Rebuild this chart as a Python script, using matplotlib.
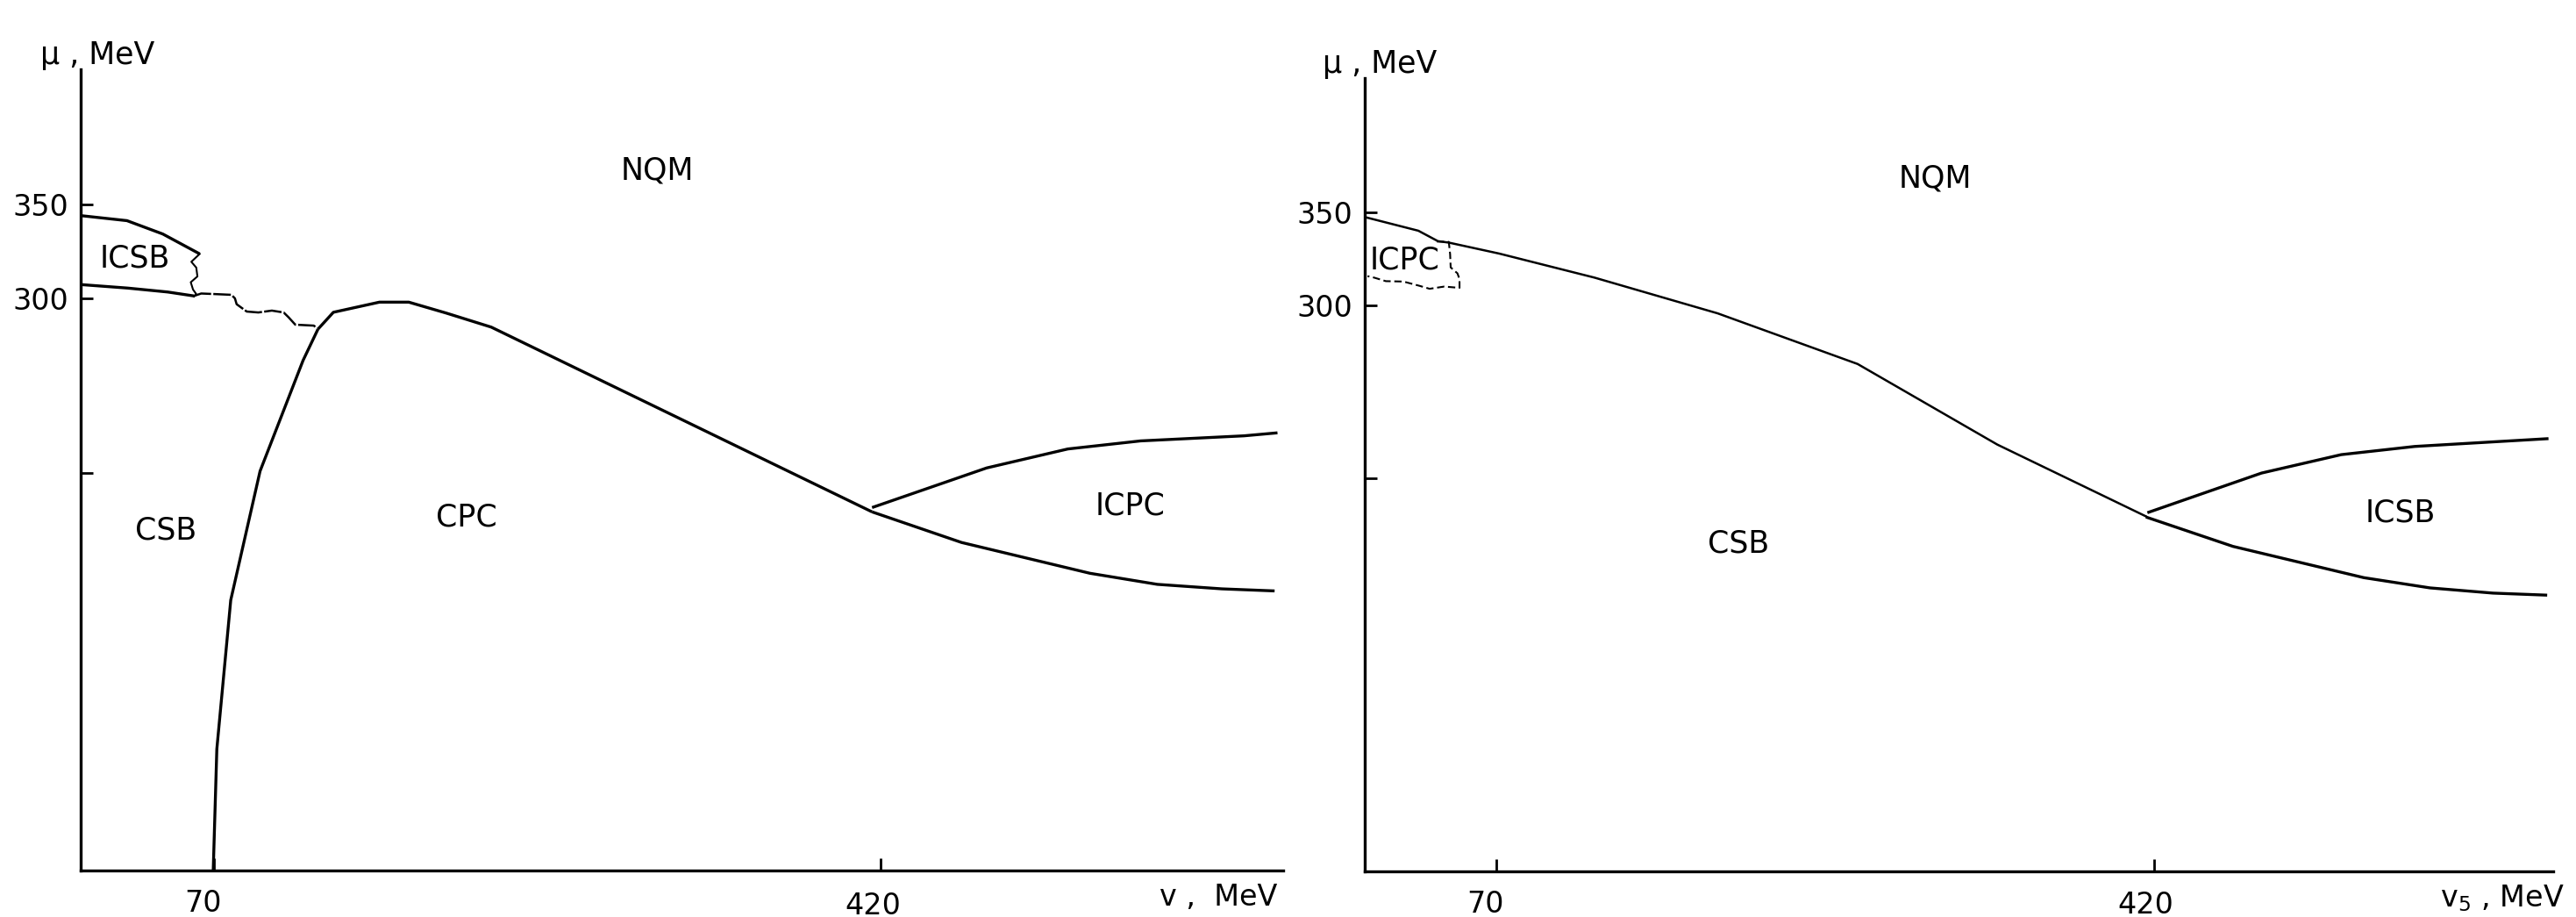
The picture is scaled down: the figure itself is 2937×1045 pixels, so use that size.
import matplotlib
matplotlib.use("Agg")
import matplotlib.pyplot as plt

# ---- left panel: phase diagram in (v, mu) ----
# ICSB pocket, upper and lower borders
icsb_top_v = [0.8, 24.3, 43.1, 62.5]
icsb_top_mu = [344.0, 341.4, 334.3, 323.7]
icsb_bot_v = [0.8, 24.6, 45.7, 59.5]
icsb_bot_mu = [307.3, 305.5, 303.4, 301.3]
# wavy right edge of ICSB
icsb_edge_v = [62.5, 58.1, 60.7, 61.3, 57.8, 59.0, 60.7, 59.5]
icsb_edge_mu = [323.7, 319.5, 316.4, 311.7, 308.6, 304.7, 302.3, 301.0]
# jagged CSB / NQM border
jag_v = [59.5, 63.3, 70.4, 79.2, 81.0, 81.9, 87.2, 93.3, 100.4, 106.6, 109.2, 112.7, 122.4, 124.2]
jag_mu = [301.3, 302.6, 302.3, 301.9, 300.0, 296.9, 293.0, 292.5, 293.5, 292.5, 289.9, 286.0, 285.5, 284.1]
# CSB / CPC border
csb_cpc_v = [69.6, 71.5, 78.8, 94.2, 116.8, 124.6]
csb_cpc_mu = [-5.0, 60.0, 139.3, 208.0, 267.0, 283.6]
# CPC / NQM border
cpc_nqm_v = [124.6, 132.7, 156.9, 172.3, 191.9, 215.6, 415.6]
cpc_nqm_mu = [283.6, 292.6, 298.0, 298.0, 292.2, 284.7, 186.3]
# ICPC branches
l_up_v = [415.6, 475.8, 518.4, 556.6, 610.9, 628.5]
l_up_mu = [188.6, 209.7, 219.8, 224.1, 226.8, 228.4]
l_lo_v = [415.6, 462.6, 530.0, 565.4, 599.3, 627.0]
l_lo_mu = [186.3, 170.0, 153.6, 147.7, 145.3, 144.2]

# ---- right panel: phase diagram in (v5, mu) ----
r_main_v = [0.2, 28.5, 38.9, 44.8, 71.6, 122.2, 187.7, 262.1, 336.4, 415.3]
r_main_mu = [347.3, 340.0, 334.4, 333.6, 327.7, 314.8, 295.6, 268.4, 225.1, 186.6]
icpc_v = [38.3, 44.7, 45.4, 45.7, 49.3, 50.4, 50.4, 42.3, 34.5, 29.1, 20.5, 11.2, 5.0, 1.5]
icpc_mu = [334.2, 334.0, 327.4, 320.3, 317.1, 314.0, 309.3, 310.0, 308.8, 310.4, 312.7, 312.9, 314.8, 315.6]
r_up_v = [416.2, 476.9, 519.3, 558.4, 629.5]
r_up_mu = [188.5, 209.8, 219.7, 224.1, 228.3]
r_lo_v = [415.4, 461.7, 531.3, 566.5, 600.0, 628.8]
r_lo_mu = [186.2, 170.4, 153.6, 148.1, 145.3, 144.2]

# region labels (v, mu)
left_labels = [("NQM", 302.7, 367.9), ("ICSB", 28.4, 321.5), ("CSB", 44.8, 176.2),
               ("CPC", 202.7, 183.2), ("ICPC", 551.2, 189.3)]
right_labels = [("NQM", 303.5, 367.8), ("ICPC", 21.3, 324.0), ("CSB", 198.6, 171.7),
                ("ICSB", 550.9, 188.5)]

yticks = [207, 300, 350]
ytick_labels = ["", "300", "350"]
xticks = [70, 420]

W, H = 2937, 1045
fig = plt.figure(figsize=(W / 100, H / 100), dpi=100)

ax1 = fig.add_axes([92 / W, 1 - 992 / H, (1463 - 92) / W, (992 - 79) / H])
ax2 = fig.add_axes([1556 / W, 1 - 993 / H, (2911 - 1556) / W, (993 - 89) / H])
ax1.set_xlim(0, 631.5)
ax1.set_ylim(-4.7, 422)
ax2.set_xlim(0, 632)
ax2.set_ylim(-4.2, 422)

k = dict(color="black", lw=2.4, solid_capstyle="butt")
ax1.plot(icsb_top_v, icsb_top_mu, **k)
ax1.plot(icsb_bot_v, icsb_bot_mu, **k)
ax1.plot(icsb_edge_v, icsb_edge_mu, color="black", lw=1.5)
ax1.plot(jag_v, jag_mu, color="black", lw=1.8, ls=(0, (8, 1)))
ax1.plot(csb_cpc_v, csb_cpc_mu, **k)
ax1.plot(cpc_nqm_v, cpc_nqm_mu, **k)
ax1.plot(l_up_v, l_up_mu, **k)
ax1.plot(l_lo_v, l_lo_mu, **k)

ax2.plot(r_main_v, r_main_mu, color="black", lw=1.8)
ax2.plot(icpc_v, icpc_mu, color="black", lw=1.5, ls=(0, (4, 2)))
ax2.plot(r_up_v, r_up_mu, **k)
ax2.plot(r_lo_v, r_lo_mu, **k)

for ax, labels in ((ax1, left_labels), (ax2, right_labels)):
    for s, v, mu in labels:
        ax.text(v, mu, s, fontsize=25, ha="center", va="center")
    for side in ("top", "right"):
        ax.spines[side].set_visible(False)
    for side in ("left", "bottom"):
        ax.spines[side].set_linewidth(2.4)
    ax.set_yticks(yticks, ytick_labels)
    ax.set_xticks(xticks, ["", ""])
    ax.tick_params(direction="in", length=10, width=2, labelsize=24, pad=10)

# x tick labels, 420 sits a little lower than 70
ax1.annotate("70", xy=(70, 0), xycoords=("data", "axes fraction"), xytext=(-9, -15),
             textcoords="offset points", ha="center", va="top", fontsize=24)
ax1.annotate("420", xy=(420, 0), xycoords=("data", "axes fraction"), xytext=(-6, -17),
             textcoords="offset points", ha="center", va="top", fontsize=24)
ax2.annotate("70", xy=(70, 0), xycoords=("data", "axes fraction"), xytext=(-9, -15),
             textcoords="offset points", ha="center", va="top", fontsize=24)
ax2.annotate("420", xy=(420, 0), xycoords=("data", "axes fraction"), xytext=(-7, -16),
             textcoords="offset points", ha="center", va="top", fontsize=24)

# axis titles
fig.text(111 / W, 1 - 63 / H, "μ , MeV", fontsize=25, ha="center", va="center")
fig.text(1573 / W, 1 - 73 / H, "μ , MeV", fontsize=25, ha="center", va="center")
fig.text(1389 / W, 1 - 1022 / H, "v ,  MeV", fontsize=24, ha="center", va="center")
fig.text(2853 / W, 1 - 1024 / H, "v$_5$ , MeV", fontsize=24, ha="center", va="center")

fig.savefig("out.png", dpi=100, facecolor="white")
